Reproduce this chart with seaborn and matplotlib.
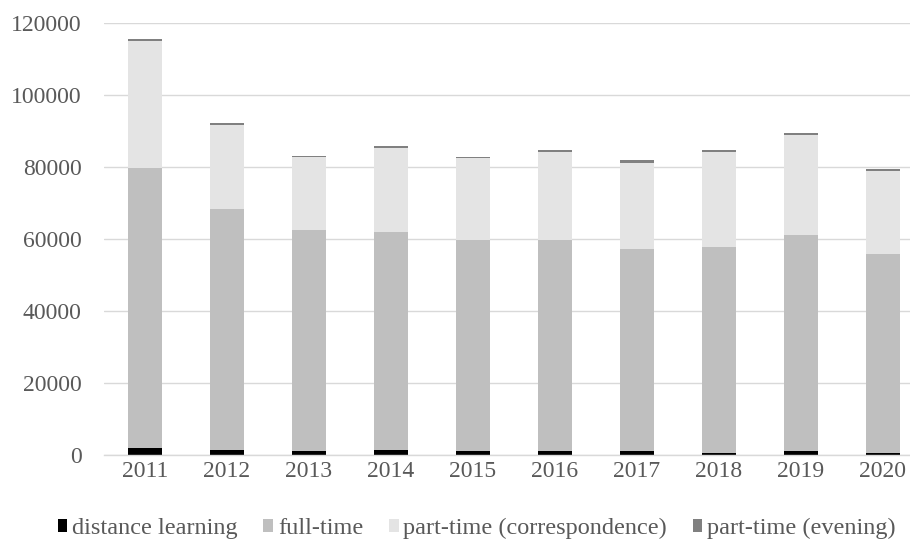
import matplotlib
matplotlib.use("Agg")
import matplotlib.pyplot as plt
from matplotlib.patches import Patch
import numpy as np
import pandas as pd
import seaborn as sns

years = ["2011", "2012", "2013", "2014", "2015", "2016", "2017", "2018", "2019", "2020"]
distance_learning = [2000, 1400, 1000, 1400, 1000, 1000, 1000, 700, 1000, 700]
full_time = [77600, 66900, 61600, 60500, 58700, 58700, 56100, 57200, 60100, 55000]
part_time_corresp = [35400, 23350, 20200, 23350, 22800, 24550, 24150, 26250, 27750, 23300]
part_time_evening = [600, 650, 300, 650, 300, 550, 650, 650, 650, 400]

series_names = ["distance learning", "full-time", "part-time (correspondence)", "part-time (evening)"]
series_values = [distance_learning, full_time, part_time_corresp, part_time_evening]
colors = ["#000000", "#bfbfbf", "#e4e4e4", "#808080"]

sns.set_theme(style="white")
plt.rcParams["font.family"] = ["Liberation Serif", "DejaVu Serif"]

fig = plt.figure(figsize=(9.1, 5.45), dpi=100)
ax = fig.add_axes([0.1143, 0.1651, 0.8857, 0.7927])

bottom = np.zeros(len(years))
for name, vals, c in zip(series_names, series_values, colors):
    df = pd.DataFrame({"year": years, "value": vals})
    sns.barplot(data=df, x="year", y="value", color=c, bottom=bottom,
                width=0.41, ax=ax, errorbar=None, linewidth=0, saturation=1)
    bottom = bottom + np.array(vals)

ax.set_ylim(0, 120000)
ax.set_xlim(-0.5, 9.33)
ax.set_yticks(np.arange(0, 120001, 20000))
ax.set_yticklabels([str(v) for v in range(0, 120001, 20000)])
ax.yaxis.grid(True, color="#d9d9d9", linewidth=1)
ax.set_axisbelow(True)
for s in ["left", "right", "top"]:
    ax.spines[s].set_visible(False)
ax.spines["bottom"].set_color("#d9d9d9")
ax.spines["bottom"].set_linewidth(1)
ax.set_xlabel("")
ax.set_ylabel("")
ax.tick_params(axis="both", length=0, labelsize=17, labelcolor="#595959")
ax.tick_params(axis="y", pad=16)
ax.tick_params(axis="x", pad=4)

handles = [Patch(facecolor=c, edgecolor="none", label=n) for n, c in zip(series_names, colors)]
fig.legend(handles=handles, loc="center", bbox_to_anchor=(0.524, 0.03), ncol=4,
           frameon=False, fontsize=17.5, handlelength=0.4, handleheight=0.45,
           handletextpad=0.2, columnspacing=1.05, labelcolor="#595959",
           borderpad=0, borderaxespad=0)

fig.savefig("out.png", dpi=100)
